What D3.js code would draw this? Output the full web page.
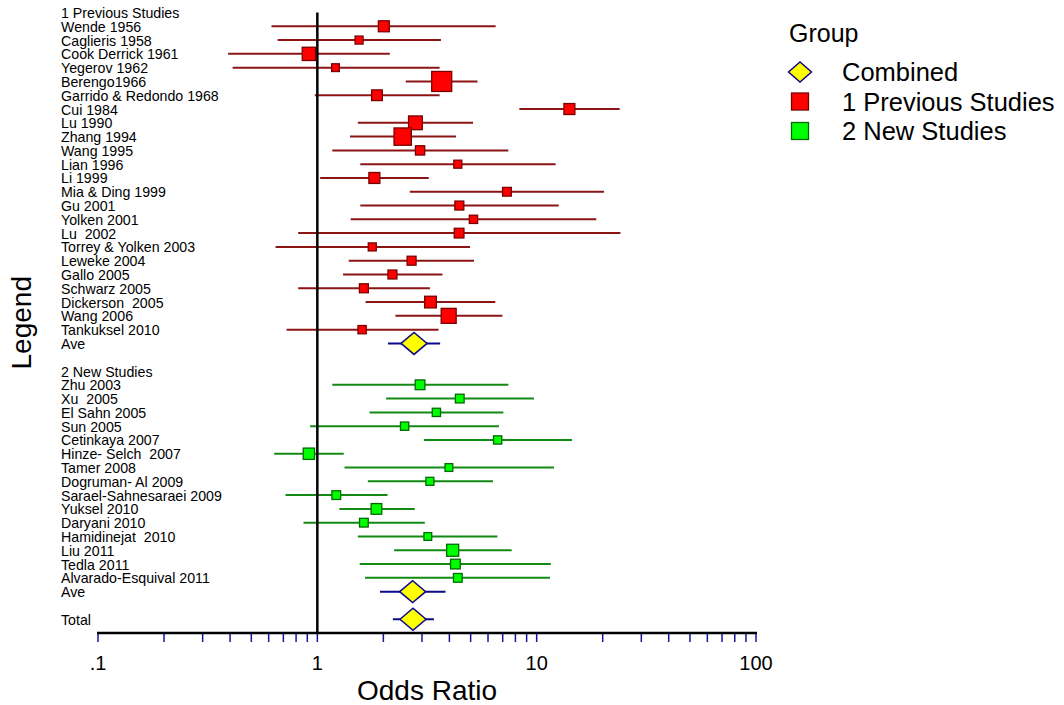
<!DOCTYPE html>
<html>
<head>
<meta charset="utf-8">
<script src="https://cdn.jsdelivr.net/npm/d3@7/dist/d3.min.js"></script>
<style>
  body { margin: 0; background: #fff; }
  text { font-family: Arial, "Liberation Sans", sans-serif; fill: #000; white-space: pre; }
</style>
</head>
<body>
<div id="forest-container"></div>
<script>
// studies (odds ratio, 95% CI, relative weight)
const prevNames = ["Wende 1956", "Caglieris 1958", "Cook Derrick 1961", "Yegerov 1962", "Berengo1966",
  "Garrido & Redondo 1968", "Cui 1984", "Lu 1990", "Zhang 1994", "Wang 1995", "Lian 1996", "Li 1999",
  "Mia & Ding 1999", "Gu 2001", "Yolken 2001", "Lu  2002", "Torrey & Yolken 2003", "Leweke 2004",
  "Gallo 2005", "Schwarz 2005", "Dickerson  2005", "Wang 2006", "Tankuksel 2010"];
const prevOR = [2.01, 1.55, 0.915, 1.21, 3.69, 1.87, 14.1, 2.80, 2.45, 2.94, 4.37, 1.82,
  7.32, 4.44, 5.15, 4.43, 1.78, 2.69, 2.20, 1.63, 3.28, 3.97, 1.60];
const prevLo = [0.618, 0.659, 0.392, 0.411, 2.53, 0.974, 8.34, 1.53, 1.41, 1.17, 1.57, 1.03,
  2.64, 1.57, 1.42, 0.818, 0.645, 1.39, 1.31, 0.818, 1.66, 2.27, 0.724];
const prevHi = [6.50, 3.66, 2.14, 3.61, 5.37, 3.61, 23.9, 5.13, 4.29, 7.43, 12.2, 3.22,
  20.3, 12.6, 18.7, 24.1, 4.97, 5.18, 3.72, 3.26, 6.48, 6.98, 3.57];
const prevWeight = [6.0, 3.2, 8.8, 3.0, 20, 5.7, 6.0, 9.4, 15, 4.3, 3.2, 6.0,
  3.8, 4.0, 3.4, 4.7, 3.2, 4.0, 4.0, 4.0, 6.8, 11.2, 3.4];

const newNames = ["Zhu 2003", "Xu  2005", "El Sahn 2005", "Sun 2005", "Cetinkaya 2007",
  "Hinze- Selch  2007", "Tamer 2008", "Dogruman- Al 2009", "Sarael-Sahnesaraei 2009", "Yuksel 2010",
  "Daryani 2010", "Hamidinejat  2010", "Liu 2011", "Tedla 2011", "Alvarado-Esquival 2011"];
const newOR = [2.94, 4.46, 3.49, 2.50, 6.64, 0.915, 3.98, 3.26, 1.22, 1.86, 1.63, 3.19, 4.14, 4.26, 4.37];
const newLo = [1.17, 2.06, 1.73, 0.927, 3.06, 0.636, 1.33, 1.70, 0.716, 1.26, 0.865, 1.53, 2.24, 1.56, 1.65];
const newHi = [7.43, 9.72, 7.05, 6.73, 14.5, 1.32, 12.0, 6.32, 2.09, 2.78, 3.09, 6.62, 7.69, 11.6, 11.5];
const newWeight = [4.7, 3.8, 3.4, 3.4, 3.4, 6.4, 3.0, 3.2, 3.8, 5.7, 3.8, 3.0, 7.2, 4.7, 3.8];

// pooled estimates: previous Ave, new Ave, Total
const summaryNames = ["Ave", "Ave", "Total"];
const summaryOR = [2.76, 2.72, 2.73];
const summaryLo = [2.10, 1.93, 2.21];
const summaryHi = [3.63, 3.84, 3.40];

const groupNames = ["1 Previous Studies", "2 New Studies"];
const legendLabels = ["Combined", "1 Previous Studies", "2 New Studies"];
const tickValues = [0.1, 1, 10, 100];
const tickLabels = [".1", "1", "10", "100"];

const WIDTH = 1064,
    HEIGHT = 705;

const colors = {
  prev: { fill: "#ff0000", stroke: "#7a0000", line: "#8b1414" },
  new: { fill: "#00ff00", stroke: "#006a00", line: "#138a13" },
  summary: { fill: "#ffff00", stroke: "#0a0a8a", line: "#0a0a8a" }
};

// build the row list top to bottom
const rows = [];
rows.push({ type: "header", label: groupNames[0] });
prevNames.forEach((name, i) => rows.push({
  type: "study", group: "prev", label: name,
  or: prevOR[i], lo: prevLo[i], hi: prevHi[i], w: prevWeight[i]
}));
rows.push({ type: "summary", label: summaryNames[0], or: summaryOR[0], lo: summaryLo[0], hi: summaryHi[0] });
rows.push({ type: "blank", label: "" });
rows.push({ type: "header", label: groupNames[1] });
newNames.forEach((name, i) => rows.push({
  type: "study", group: "new", label: name,
  or: newOR[i], lo: newLo[i], hi: newHi[i], w: newWeight[i]
}));
rows.push({ type: "summary", label: summaryNames[1], or: summaryOR[1], lo: summaryLo[1], hi: summaryHi[1] });
rows.push({ type: "blank", label: "" });
rows.push({ type: "summary", label: summaryNames[2], or: summaryOR[2], lo: summaryLo[2], hi: summaryHi[2] });
rows.forEach((d, i) => d.index = i);

const nRows = rows.length; // axis sits one row below the last one

const x = d3.scaleLog()
  .domain([0.1, 100])
  .range([98, 756]);

const y = d3.scaleLinear()
  .domain([0, nRows])
  .range([12.5, 633]);

const size = d3.scaleSqrt()
  .domain([0, 20])
  .range([0, 20]);

const svg = d3.select("#forest-container")
  .append("svg")
  .attr("width", WIDTH)
  .attr("height", HEIGHT);

const studies = rows.filter(d => d.type === "study");
const summaries = rows.filter(d => d.type === "summary");

// row labels
svg.append("g")
  .selectAll("text")
  .data(rows.filter(d => d.label !== ""))
  .join("text")
    .attr("x", 61)
    .attr("y", d => y(d.index) + 5.5)
    .attr("xml:space", "preserve")
    .style("font-size", "14.2px")
    .text(d => d.label);

// confidence intervals
svg.append("g")
  .selectAll("line")
  .data(rows.filter(d => d.type !== "header" && d.type !== "blank"))
  .join("line")
    .attr("x1", d => x(d.lo))
    .attr("x2", d => x(d.hi))
    .attr("y1", d => y(d.index))
    .attr("y2", d => y(d.index))
    .attr("stroke", d => d.type === "summary" ? colors.summary.line : colors[d.group].line)
    .attr("stroke-width", 2);

// line of no effect
svg.append("line")
  .attr("x1", x(1))
  .attr("x2", x(1))
  .attr("y1", 12.5)
  .attr("y2", y(nRows))
  .attr("stroke", "#000")
  .attr("stroke-width", 2.5);

// study boxes, sized by weight
svg.append("g")
  .selectAll("rect")
  .data(studies)
  .join("rect")
    .attr("x", d => x(d.or) - size(d.w) / 2)
    .attr("y", d => y(d.index) - size(d.w) / 2)
    .attr("width", d => size(d.w))
    .attr("height", d => size(d.w))
    .attr("fill", d => colors[d.group].fill)
    .attr("stroke", d => colors[d.group].stroke)
    .attr("stroke-width", 1.3);

// pooled diamonds
const diamond = (cx, cy, w, h) =>
  `M${cx - w / 2},${cy}L${cx},${cy - h / 2}L${cx + w / 2},${cy}L${cx},${cy + h / 2}Z`;

svg.append("g")
  .selectAll("path")
  .data(summaries)
  .join("path")
    .attr("d", d => diamond(x(d.or), y(d.index), 26, 22))
    .attr("fill", colors.summary.fill)
    .attr("stroke", colors.summary.stroke)
    .attr("stroke-width", 1.5);

// x axis
const axisY = y(nRows);
const axis = svg.append("g");

axis.selectAll(".minor")
  .data(x.ticks())
  .join("line")
    .attr("class", "minor")
    .attr("x1", d => x(d))
    .attr("x2", d => x(d))
    .attr("y1", axisY)
    .attr("y2", axisY + 9)
    .attr("stroke", "#1414a0")
    .attr("stroke-width", 1.5);

axis.append("line")
  .attr("x1", x.range()[0] - 1)
  .attr("x2", x.range()[1] + 1)
  .attr("y1", axisY)
  .attr("y2", axisY)
  .attr("stroke", "#000")
  .attr("stroke-width", 2.5);

axis.selectAll(".tick-label")
  .data(tickValues)
  .join("text")
    .attr("class", "tick-label")
    .attr("x", d => x(d))
    .attr("y", 670)
    .style("text-anchor", "middle")
    .style("font-size", "20px")
    .text((d, i) => tickLabels[i]);

svg.append("text")
  .attr("x", (x.range()[0] + x.range()[1]) / 2)
  .attr("y", 700)
  .style("text-anchor", "middle")
  .style("font-size", "28px")
  .text("Odds Ratio");

svg.append("text")
  .attr("transform", `translate(31, ${(y(0) + axisY) / 2}) rotate(-90)`)
  .style("text-anchor", "middle")
  .style("font-size", "28px")
  .text("Legend");

// legend
const legend = svg.append("g");

legend.append("text")
  .attr("x", 789)
  .attr("y", 42)
  .style("font-size", "25px")
  .text("Group");

const legendKeys = ["summary", "prev", "new"];
const legendItems = legend.selectAll(".legend-item")
  .data(legendLabels)
  .join("g")
    .attr("class", "legend-item")
    .attr("transform", (d, i) => `translate(800, ${72 + i * 29.5})`);

legendItems.each(function (d, i) {
  const g = d3.select(this);
  const key = legendKeys[i];
  if (key === "summary") {
    g.append("path")
      .attr("d", diamond(0, 0, 23, 20))
      .attr("fill", colors.summary.fill)
      .attr("stroke", colors.summary.stroke)
      .attr("stroke-width", 1.5);
  } else {
    g.append("rect")
      .attr("x", -8.5)
      .attr("y", -8.5)
      .attr("width", 17)
      .attr("height", 17)
      .attr("fill", colors[key].fill)
      .attr("stroke", colors[key].stroke)
      .attr("stroke-width", 1.3);
  }
  g.append("text")
    .attr("x", 42)
    .attr("y", 9)
    .style("font-size", "25.5px")
    .text(d);
});
</script>
</body>
</html>
